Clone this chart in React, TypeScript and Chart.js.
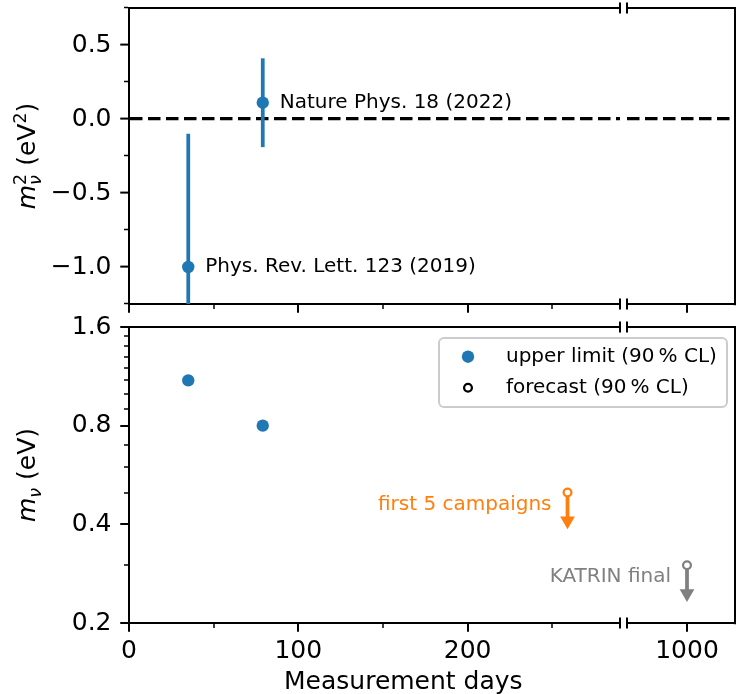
import React, { useEffect, useRef } from 'react';
import { Chart, registerables } from 'chart.js';

Chart.register(...registerables);

const FONT = '"DejaVu Sans", "Liberation Sans", sans-serif';
const BLUE = '#1f77b4';
Chart.defaults.font.family = FONT;
Chart.defaults.color = '#000';

// ---------------- data ----------------
const resultDays = [35, 79];
const resultLabels = ['Phys. Rev. Lett. 123 (2019)', 'Nature Phys. 18 (2022)'];
const msqBest = [-1.0, 0.11];
const msqErrDown = [1.1, 0.3];
const msqErrUp = [0.9, 0.3];
const upperLimits = [1.1, 0.8];

const forecastDays = [259, 1000];
const forecastLabels = ['first 5 campaigns', 'KATRIN final'];
const forecastLimits = [0.5, 0.3];
const forecastArrowEnds = [0.41, 0.246];
const forecastColors = ['#ff7f0e', '#808080'];

const legendLabels = ['upper limit (90\u2009% CL)', 'forecast (90\u2009% CL)'];

// ---------------- axes ----------------
const xRangeLeft = [0, 290];
const xRangeRight = [960, 1032];
const xTicksLeft = [0, 50, 100, 150, 200, 250];
const xTicksRight = [1000];
const xTickLabels = [0, 100, 200, 1000];
const msqRange = [-1.25, 0.75];
const msqTicks = [-1.25, -1.0, -0.75, -0.5, -0.25, 0, 0.25, 0.5, 0.75];
const msqTickLabels = [-1.0, -0.5, 0, 0.5];
const mRange = [0.2, 1.6];
const mTicks = [0.2, 0.3, 0.4, 0.5, 0.6, 0.7, 0.8, 0.9, 1.0, 1.1, 1.2, 1.3, 1.4, 1.5, 1.6];
const mTickLabels = [0.2, 0.4, 0.8, 1.6];

// ---------------- helpers ----------------
const TICK_FONT = { family: FONT, size: 25 };
const near = (a: number, b: number) => Math.abs(a - b) < 1e-9;
const isIn = (list: number[], v: number) => list.some((u) => near(u, v));
const inRange = (r: number[], v: number) => v >= r[0] && v <= r[1];
const fmtSigned = (v: number) => v.toFixed(1).replace('-', '\u2212');
const fmtPlain = (v: number) => v.toFixed(1);
const idxIn = (arr: number[], r: number[]) => arr.map((_, i) => i).filter((i) => inRange(r, arr[i]));

function zeroPad(s: any) {
  s.paddingLeft = 0;
  s.paddingRight = 0;
  s.paddingTop = 0;
  s.paddingBottom = 0;
}

const spine = {
  display: true,
  color: '#000',
  width: 2,
  dash: (c: any) => (c && c.type === 'tick' ? [12.5, 5.5] : []),
};

const zeroColor = (c: any) => (c && c.tick && near(c.tick.value, 0) ? '#000' : 'rgba(0,0,0,0)');

function tickGrid(labelled: number[], side: 'left' | 'bottom', zeroLine: boolean) {
  const major = (c: any) => !!(c && c.tick && isIn(labelled, c.tick.value));
  return {
    display: true,
    drawOnChartArea: zeroLine,
    drawTicks: true,
    tickLength: 8.75,
    lineWidth: zeroLine ? 3.2 : 2,
    color: zeroLine ? zeroColor : 'rgba(0,0,0,0)',
    tickColor: '#000',
    tickWidth: (c: any) => (major(c) ? 2 : 1.5),
    tickBorderDash: (c: any) => (major(c) ? [] : side === 'left' ? [0, 3.75, 4, 100] : [4, 100]),
  };
}

function xAxis(range: number[], ticks: number[], labels: boolean, height: number) {
  return {
    type: 'linear',
    position: 'bottom',
    min: range[0],
    max: range[1],
    bounds: 'data',
    afterBuildTicks: (s: any) => {
      s.ticks = ticks.map((v) => ({ value: v }));
    },
    afterFit: (s: any) => {
      s.height = height;
      zeroPad(s);
    },
    ticks: {
      display: labels,
      autoSkip: false,
      maxRotation: 0,
      minRotation: 0,
      padding: 4.75,
      color: '#000',
      font: TICK_FONT,
      callback: (v: any) => (isIn(xTickLabels, Number(v)) ? String(v) : ''),
    },
    grid: tickGrid(xTickLabels, 'bottom', false),
    border: spine,
  };
}

const topSpine = {
  type: 'linear',
  position: 'top',
  afterFit: (s: any) => {
    s.height = 0;
    zeroPad(s);
  },
  ticks: { display: false },
  grid: { display: false, drawTicks: false },
  border: spine,
};

function yLeft(type: string, range: number[], ticks: number[], labelled: number[], fmt: (v: number) => string, zeroLine: boolean) {
  return {
    type,
    position: 'left',
    min: range[0],
    max: range[1],
    bounds: 'data',
    afterBuildTicks: (s: any) => {
      s.ticks = ticks.map((v) => ({ value: v }));
    },
    afterFit: (s: any) => {
      s.width = 129;
      zeroPad(s);
    },
    ticks: {
      autoSkip: false,
      padding: 8.75,
      color: '#000',
      font: TICK_FONT,
      callback: (v: any) => (isIn(labelled, Number(v)) ? fmt(Number(v)) : ''),
    },
    grid: tickGrid(labelled, 'left', zeroLine),
    border: spine,
  };
}

function yRight(type: string, range: number[], ticks: number[], zeroLine: boolean) {
  return {
    type,
    position: 'right',
    min: range[0],
    max: range[1],
    bounds: 'data',
    afterBuildTicks: (s: any) => {
      s.ticks = ticks.map((v) => ({ value: v }));
    },
    afterFit: (s: any) => {
      s.width = 0;
      zeroPad(s);
    },
    ticks: { display: false },
    grid: { display: zeroLine, drawOnChartArea: zeroLine, drawTicks: false, lineWidth: 3.2, color: zeroColor },
    border: spine,
  };
}

// ---------------- datasets ----------------
function resultDatasets(range: number[]) {
  const idx = idxIn(resultDays, range);
  return [
    {
      label: 'best fit',
      data: idx.map((i) => ({ x: resultDays[i], y: msqBest[i] })),
      pointRadius: 6.2,
      pointBackgroundColor: BLUE,
      pointBorderColor: BLUE,
      pointBorderWidth: 0,
      order: 0,
      xAxisID: 'x',
      yAxisID: 'y',
    },
    ...idx.map((i) => ({
      label: 'uncertainty',
      showLine: true,
      data: [
        { x: resultDays[i], y: msqBest[i] - msqErrDown[i] },
        { x: resultDays[i], y: msqBest[i] + msqErrUp[i] },
      ],
      borderColor: BLUE,
      borderWidth: 3.75,
      pointRadius: 0,
      order: 1,
      xAxisID: 'x',
      yAxisID: 'y',
    })),
  ];
}

function limitDatasets(range: number[]) {
  const idx = idxIn(resultDays, range);
  const fIdx = idxIn(forecastDays, range);
  return [
    {
      label: legendLabels[0],
      data: idx.map((i) => ({ x: resultDays[i], y: upperLimits[i] })),
      pointRadius: 6.2,
      pointBackgroundColor: BLUE,
      pointBorderColor: BLUE,
      pointBorderWidth: 0,
      order: 0,
      xAxisID: 'x',
      yAxisID: 'y',
    },
    ...fIdx.map((i) => ({
      label: forecastLabels[i],
      showLine: true,
      data: [
        { x: forecastDays[i], y: forecastLimits[i] },
        { x: forecastDays[i], y: forecastArrowEnds[i] },
      ],
      borderColor: forecastColors[i],
      borderWidth: 3.75,
      pointStyle: ['circle', 'triangle'],
      rotation: [0, 180],
      pointRotation: [0, 180],
      pointRadius: [3.9, 8.5],
      pointBorderWidth: [2.25, 0],
      pointBackgroundColor: ['#ffffff', forecastColors[i]],
      pointBorderColor: forecastColors[i],
      order: 0,
      xAxisID: 'x',
      yAxisID: 'y',
    })),
  ];
}

// ---------------- plugins ----------------
type Note = { x: number; y: number; text: string; color: string; side: 'left' | 'right' };

function notesPlugin(notes: Note[], dx: number, dy: number) {
  return {
    id: 'notes',
    afterDatasetsDraw(chart: any) {
      const { ctx, scales } = chart;
      const xs = scales.x;
      const ys = scales.y;
      ctx.save();
      ctx.font = `20px ${FONT}`;
      ctx.textBaseline = 'alphabetic';
      notes.forEach((n) => {
        if (n.x < xs.min || n.x > xs.max) return;
        const px = xs.getPixelForValue(n.x);
        const py = ys.getPixelForValue(n.y);
        ctx.fillStyle = n.color;
        ctx.textAlign = n.side;
        ctx.fillText(n.text, n.side === 'left' ? px + dx : px - dx, py + dy);
      });
      ctx.restore();
    },
  };
}

function breakPlugin(side: 'left' | 'right') {
  return {
    id: 'breakMarks',
    afterDraw(chart: any) {
      const { ctx, chartArea } = chart;
      const x = side === 'right' ? chartArea.right : chartArea.left;
      ctx.save();
      ctx.strokeStyle = '#000';
      ctx.lineWidth = 2;
      [chartArea.top, chartArea.bottom].forEach((y: number) => {
        ctx.beginPath();
        ctx.moveTo(x, y - 5.6);
        ctx.lineTo(x, y + 5.6);
        ctx.stroke();
      });
      ctx.restore();
    },
  };
}

type Run = { t: string; size: number; italic?: boolean; dy?: number };

function yTitlePlugin(cols: Run[][], baselineX: number) {
  return {
    id: 'yTitle',
    afterDraw(chart: any) {
      const { ctx, chartArea } = chart;
      const cy = (chartArea.top + chartArea.bottom) / 2;
      const fontOf = (r: Run) => `${r.italic ? 'italic ' : ''}${r.size}px ${FONT}`;
      ctx.save();
      const widths = cols.map((col) =>
        Math.max(
          ...col.map((r) => {
            ctx.font = fontOf(r);
            return ctx.measureText(r.t).width;
          })
        )
      );
      const total = widths.reduce((a, b) => a + b, 0);
      ctx.translate(baselineX, cy);
      ctx.rotate(-Math.PI / 2);
      ctx.fillStyle = '#000';
      ctx.textAlign = 'left';
      ctx.textBaseline = 'alphabetic';
      let x = -total / 2;
      cols.forEach((col, i) => {
        col.forEach((r) => {
          ctx.font = fontOf(r);
          ctx.fillText(r.t, x, r.dy || 0);
        });
        x += widths[i];
      });
      ctx.restore();
    },
  };
}

const xTitlePlugin = {
  id: 'xTitle',
  afterDraw(chart: any) {
    const { ctx } = chart;
    ctx.save();
    ctx.font = `25px ${FONT}`;
    ctx.fillStyle = '#000';
    ctx.textAlign = 'center';
    ctx.textBaseline = 'alphabetic';
    ctx.fillText('Measurement days', 403.3, 389.3);
    ctx.restore();
  },
};

const legendPlugin = {
  id: 'boxLegend',
  afterDraw(chart: any) {
    const { ctx, chartArea } = chart;
    const w = 288;
    const h = 69;
    const right = chartArea.right - 8;
    const top = chartArea.top + 11;
    const left = right - w;
    ctx.save();
    ctx.beginPath();
    if (ctx.roundRect) ctx.roundRect(left, top, w, h, 5);
    else ctx.rect(left, top, w, h);
    ctx.fillStyle = 'rgba(255,255,255,0.8)';
    ctx.fill();
    ctx.lineWidth = 2;
    ctx.strokeStyle = '#cccccc';
    ctx.stroke();
    const rows = [top + 18.7, top + 49.7];
    ctx.beginPath();
    ctx.arc(left + 29, rows[0], 6.2, 0, Math.PI * 2);
    ctx.fillStyle = BLUE;
    ctx.fill();
    ctx.beginPath();
    ctx.arc(left + 29, rows[1], 3.9, 0, Math.PI * 2);
    ctx.fillStyle = '#ffffff';
    ctx.fill();
    ctx.lineWidth = 2.25;
    ctx.strokeStyle = '#000';
    ctx.stroke();
    ctx.font = `20px ${FONT}`;
    ctx.fillStyle = '#000';
    ctx.textAlign = 'left';
    ctx.textBaseline = 'alphabetic';
    legendLabels.forEach((t, i) => ctx.fillText(t, left + 67, rows[i] + 5));
    ctx.restore();
  },
};

const topTitle: Run[][] = [
  [{ t: 'm', size: 25, italic: true }],
  [
    { t: '\u03bd', size: 17.5, italic: true, dy: 6 },
    { t: '2', size: 17.5, dy: -9 },
  ],
  [{ t: ' (eV', size: 25 }],
  [{ t: '2', size: 17.5, dy: -9 }],
  [{ t: ')', size: 25 }],
];
const bottomTitle: Run[][] = [
  [{ t: 'm', size: 25, italic: true }],
  [{ t: '\u03bd', size: 17.5, italic: true, dy: 6 }],
  [{ t: ' (eV)', size: 25 }],
];

const resultNotes: Note[] = resultDays.map((d, i) => ({ x: d, y: msqBest[i], text: resultLabels[i], color: '#000', side: 'left' }));
const forecastNotes: Note[] = forecastDays.map((d, i) => ({ x: d, y: forecastLimits[i], text: forecastLabels[i], color: forecastColors[i], side: 'right' }));

function baseOptions(padding: any, scales: any) {
  return {
    responsive: false,
    maintainAspectRatio: false,
    animation: false,
    events: [],
    layout: { padding, autoPadding: false },
    plugins: { legend: { display: false }, tooltip: { enabled: false }, title: { display: false } },
    scales,
  };
}

type Spec = { left: number; top: number; w: number; h: number; config: () => any };

const specs: Spec[] = [
  {
    left: 500,
    top: 0,
    w: 236,
    h: 340,
    config: () => ({
      type: 'scatter',
      data: { datasets: resultDatasets(xRangeRight) },
      options: baseOptions({ left: 127, top: 8, right: 1, bottom: 0 }, {
        x: xAxis(xRangeRight, xTicksRight, false, 36),
        xTop: topSpine,
        y: yRight('linear', msqRange, msqTicks, true),
      }),
      plugins: [breakPlugin('left'), notesPlugin(resultNotes, 17, 5)],
    }),
  },
  {
    left: 400,
    top: 300,
    w: 336,
    h: 394,
    config: () => ({
      type: 'scatter',
      data: { datasets: limitDatasets(xRangeRight) },
      options: baseOptions({ left: 227, top: 27, right: 1, bottom: 0 }, {
        x: xAxis(xRangeRight, xTicksRight, true, 71),
        xTop: topSpine,
        y: yRight('logarithmic', mRange, mTicks, false),
      }),
      plugins: [breakPlugin('left'), notesPlugin(forecastNotes, 16, 17), legendPlugin],
    }),
  },
  {
    left: 0,
    top: 0,
    w: 640,
    h: 340,
    config: () => ({
      type: 'scatter',
      data: { datasets: resultDatasets(xRangeLeft) },
      options: baseOptions({ left: 0, top: 8, right: 20, bottom: 0 }, {
        x: xAxis(xRangeLeft, xTicksLeft, false, 36),
        xTop: topSpine,
        y: yLeft('linear', msqRange, msqTicks, msqTickLabels, fmtSigned, true),
      }),
      plugins: [breakPlugin('right'), notesPlugin(resultNotes, 17, 5), yTitlePlugin(topTitle, 35)],
    }),
  },
  {
    left: 0,
    top: 300,
    w: 640,
    h: 394,
    config: () => ({
      type: 'scatter',
      data: { datasets: limitDatasets(xRangeLeft) },
      options: baseOptions({ left: 0, top: 27, right: 20, bottom: 0 }, {
        x: xAxis(xRangeLeft, xTicksLeft, true, 71),
        xTop: topSpine,
        y: yLeft('logarithmic', mRange, mTicks, mTickLabels, fmtPlain, false),
      }),
      plugins: [breakPlugin('right'), notesPlugin(forecastNotes, 16, 17), yTitlePlugin(bottomTitle, 35), xTitlePlugin],
    }),
  },
];

function ChartBox({ spec }: { spec: Spec }) {
  const ref = useRef<HTMLCanvasElement | null>(null);
  useEffect(() => {
    if (!ref.current) return;
    const chart = new Chart(ref.current, spec.config());
    return () => chart.destroy();
  }, [spec]);
  return (
    <canvas
      ref={ref}
      width={spec.w}
      height={spec.h}
      style={{ position: 'absolute', left: spec.left, top: spec.top, width: spec.w, height: spec.h }}
    />
  );
}

export default function App() {
  return (
    <div style={{ position: 'absolute', left: 0, top: 0, width: 736, height: 694, background: '#fff', overflow: 'hidden' }}>
      {specs.map((s, i) => (
        <ChartBox key={i} spec={s} />
      ))}
    </div>
  );
}
